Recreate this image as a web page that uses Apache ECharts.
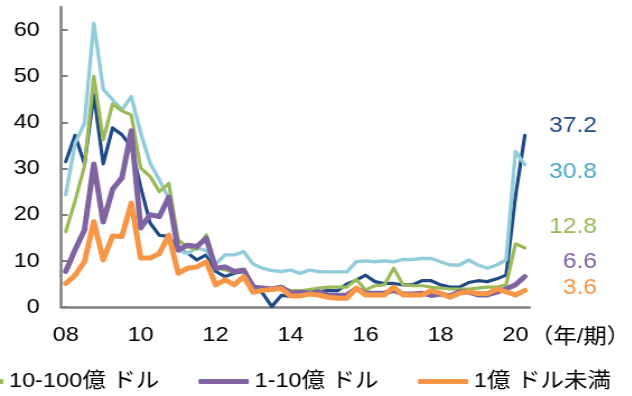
<!DOCTYPE html>
<html>
<head>
<meta charset="utf-8">
<script src="https://cdn.jsdelivr.net/npm/echarts@6/dist/echarts.min.js"></script>
<style>
html,body{margin:0;padding:0;background:#fff;overflow:hidden;width:632px;height:396px;}
#chart{position:absolute;left:0;top:0;width:564px;height:396px;transform:scaleX(1.12);transform-origin:0 0;}
</style>
</head>
<body>
<div id="chart"></div>
<script>
var categories = ['08Q1','08Q2','08Q3','08Q4','09Q1','09Q2','09Q3','09Q4','10Q1','10Q2','10Q3','10Q4',
 '11Q1','11Q2','11Q3','11Q4','12Q1','12Q2','12Q3','12Q4','13Q1','13Q2','13Q3','13Q4',
 '14Q1','14Q2','14Q3','14Q4','15Q1','15Q2','15Q3','15Q4','16Q1','16Q2','16Q3','16Q4',
 '17Q1','17Q2','17Q3','17Q4','18Q1','18Q2','18Q3','18Q4','19Q1','19Q2','19Q3','19Q4','20Q1','20Q2'];
var xTickLabels = ['08','10','12','14','16','18','20'];
var yTicks = [0,10,20,30,40,50,60];

var seriesNames = ['100億ドル以上','全体','10-100億 ドル','1-10億 ドル','1億 ドル未満'];
var legendNames = ['10-100億 ドル','1-10億 ドル','1億 ドル未満'];

var darkBlue = [31.5,37.2,31,46,31,38.8,37.3,34.7,26,18.2,15.5,15.3,
 12.4,11.7,10.2,11.3,7.7,6.6,7.3,7.7,4.8,3.0,0.1,2.5,
 2.3,2.3,2.8,3.3,3.6,3.5,5.0,5.8,6.9,5.5,5.1,5.1,
 4.8,4.8,5.7,5.7,4.8,4.3,4.3,5.3,5.7,5.5,6.1,6.9,24,37.2];
var lightBlue = [24.3,35.5,39.8,61.5,47.2,44.9,42.7,45.6,37.7,31.2,27.5,23.5,
 12.2,11.6,12.8,12.2,9.3,11.3,11.3,12.0,9.3,8.4,7.9,7.7,
 8.0,7.3,8.0,7.7,7.6,7.6,7.6,9.8,10.0,9.8,10.0,9.8,
 10.3,10.3,10.5,10.5,9.8,9.1,9.1,10.2,9.1,8.4,9.1,10.2,33.7,30.8];
var green = [16.3,23,30.5,50,36.2,44,42.5,41.6,30.1,28.3,25,26.8,
 14.5,13,12.5,15.6,8.5,8,7.5,8,4.5,4,4,4,
 3.6,3.5,3.8,4.1,4.3,4.3,4.3,6.0,3.7,4.6,4.8,8.4,
 4.8,4.6,4.6,4.3,4.1,3.9,3.9,3.9,4.1,4.3,4.3,4.8,13.7,12.8];
var purple = [7.7,12.4,16.7,31,18.4,25.5,28,38.2,17.1,20,19.6,23.8,
 12.3,13.4,13.1,14.9,8.4,8.7,7.7,8.0,4.3,4.1,3.9,4.3,
 3.0,3.2,3.0,3.3,2.6,2.5,2.6,4.0,3.0,3.0,3.0,3.6,
 2.8,2.8,3.0,2.5,2.8,2.4,3.3,3.2,2.6,2.6,3.2,3.9,4.8,6.6];
var orange = [5.1,6.9,9.8,18.5,10.2,15.4,15.3,22.5,10.6,10.6,11.6,15.6,
 7.3,8.4,8.7,9.8,4.8,5.9,4.8,6.6,3.2,3.6,3.8,4.0,
 2.4,2.4,2.8,2.6,2.1,1.9,1.9,4.1,2.6,2.6,2.6,4.3,
 2.6,2.6,2.6,3.5,3.0,2.1,3.0,3.3,2.9,2.9,3.9,3.3,2.6,3.6];

var allData = [darkBlue, lightBlue, green, purple, orange];
var lineColors = ['#1f4a86','#92cddc','#9bbb59','#8064a2','#f79646'];
var labelColors = ['#1f4a86','#4bacc6','#9bbb59','#8064a2','#f79646'];
var lineWidths = [3.2,3.4,3.2,5,5];
var endLabelY = [126,172,227,262,288];

var FONT = '"Liberation Sans", Arial, "Noto Sans CJK JP", sans-serif';
var chart = echarts.init(document.getElementById('chart'), null, {renderer:'canvas'});

var series = allData.map(function(d,i){
  return {
    name: seriesNames[i], type:'line', data:d, symbol:'none', smooth:false,
    lineStyle:{color:lineColors[i], width:lineWidths[i], join:'round', cap:'round'},
    itemStyle:{color:lineColors[i]},
    emphasis:{disabled:true}, animation:false, z: 2+i
  };
});

var graphics = [{
  type:'text', x:473, y:337,
  style:{text:'（年/期）', fontSize:21, fontFamily:FONT, fill:'#000', verticalAlign:'middle', align:'left'}
}];
allData.forEach(function(d,i){
  graphics.push({
    type:'text', x:533, y:endLabelY[i],
    style:{text:d[d.length-1].toFixed(1), fontSize:22, fontFamily:FONT, fill:labelColors[i], align:'right', verticalAlign:'middle'}
  });
});

chart.setOption({
  animation:false,
  backgroundColor:'#fff',
  grid:{left:54.5, right:91.2, top:7, bottom:89, containLabel:false, outerBoundsMode:'none'},
  legend:{
    data:legendNames, left:-42, top:371, padding:0, itemGap:35,
    icon:'roundRect', itemWidth:45, itemHeight:5,
    textStyle:{fontSize:21, color:'#000', fontFamily:FONT}
  },
  xAxis:{
    type:'category', data:categories, boundaryGap:true,
    axisLine:{lineStyle:{color:'#808080', width:2.5}},
    axisTick:{show:false},
    axisLabel:{interval:7, fontSize:21, color:'#000', fontFamily:FONT, margin:18,
      formatter:function(v,idx){ return xTickLabels[Math.round(idx/8)]; }},
    splitLine:{show:false}
  },
  yAxis:{
    type:'value', min:0, max:65, interval:10,
    axisLine:{show:true, lineStyle:{color:'#808080', width:2.5}},
    axisTick:{show:true, inside:true, length:6, lineStyle:{color:'#808080', width:2}, customValues:yTicks},
    axisLabel:{fontSize:21, color:'#000', fontFamily:FONT, margin:19, customValues:yTicks},
    splitLine:{show:false}
  },
  series:series,
  graphic:graphics
});
</script>
</body>
</html>
